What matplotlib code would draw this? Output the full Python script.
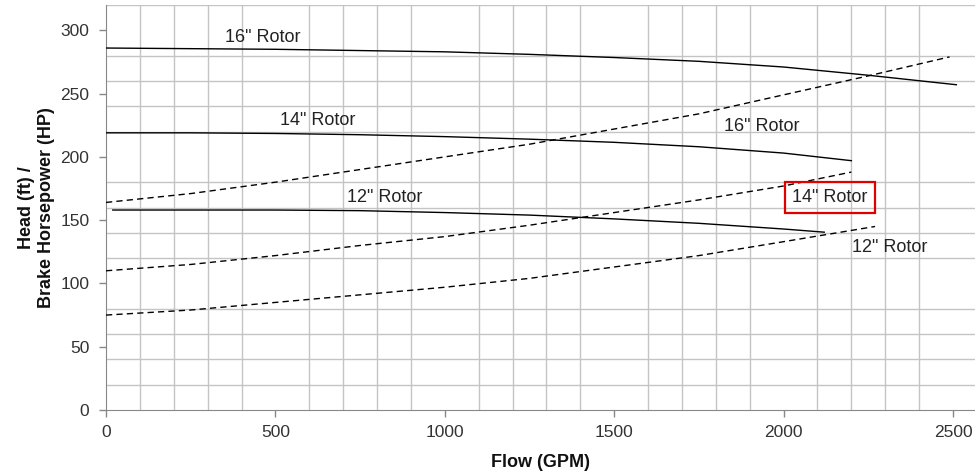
import matplotlib
matplotlib.use("Agg")
import matplotlib.pyplot as plt
from matplotlib.ticker import MultipleLocator

plt.rcParams['font.family'] = ['Liberation Sans', 'DejaVu Sans']

# Head curves (solid)
head16_flow = [0, 250, 500, 750, 1000, 1250, 1500, 1750, 2000, 2250, 2510]
head16_ft = [286, 285.5, 285, 284, 283, 281, 278.5, 275.5, 271, 264.5, 257]
head14_flow = [0, 250, 500, 750, 1000, 1250, 1500, 1750, 2000, 2200]
head14_ft = [219, 219, 218.5, 217.5, 216, 214, 211.5, 208, 203, 197]
head12_flow = [20, 250, 500, 750, 1000, 1250, 1500, 1750, 2000, 2120]
head12_ft = [158, 158, 158, 157.5, 156, 154, 151, 147.5, 143, 140.5]

# Brake horsepower curves (dashed)
bhp16_flow = [0, 250, 500, 750, 1000, 1250, 1500, 1750, 2000, 2250, 2490]
bhp16_hp = [164, 171, 180, 190, 200, 210, 222, 234, 249, 264, 279]
bhp14_flow = [0, 250, 500, 750, 1000, 1250, 1500, 1750, 2000, 2200]
bhp14_hp = [110, 115, 122, 130, 137, 146, 156, 166, 177, 188]
bhp12_flow = [0, 250, 500, 750, 1000, 1250, 1500, 1750, 2000, 2270]
bhp12_hp = [75, 79, 85, 91, 97, 104, 113, 122, 133, 145]

# curve labels: (text, flow, value, boxed)
labels = [
    ('16" Rotor', 463, 294, False),
    ('14" Rotor', 626, 229, False),
    ('12" Rotor', 823, 168, False),
    ('16" Rotor', 1936, 224, False),
    ('14" Rotor', 2137, 168, True),
    ('12" Rotor', 2314, 128, False),
]

fig = plt.figure(figsize=(9.75, 4.74), dpi=100)
ax = fig.add_axes([106 / 975, (474 - 410) / 474, 869 / 975, 405 / 474])

for x, y in [(head16_flow, head16_ft), (head14_flow, head14_ft), (head12_flow, head12_ft)]:
    ax.plot(x, y, color='black', lw=1.0, zorder=3)
for x, y in [(bhp16_flow, bhp16_hp), (bhp14_flow, bhp14_hp), (bhp12_flow, bhp12_hp)]:
    ax.plot(x, y, color='black', lw=1.0, dashes=(4.5, 3), zorder=3)

for txt, x, y, boxed in labels:
    kw = {}
    if boxed:
        kw['bbox'] = dict(boxstyle='square,pad=0.4', facecolor='none', edgecolor='#e00000', lw=1.6)
    ax.text(x, y, txt, ha='center', va='center', fontsize=13, color='#222222', zorder=4, **kw)

ax.set_xlim(0, 2565)
ax.set_ylim(0, 320)
ax.xaxis.set_major_locator(MultipleLocator(500))
ax.xaxis.set_minor_locator(MultipleLocator(100))
ax.yaxis.set_major_locator(MultipleLocator(50))
ax.yaxis.set_minor_locator(MultipleLocator(20))
ax.grid(which='minor', color='#c4c4c4', lw=1.0)
ax.grid(which='major', visible=False)
ax.set_axisbelow(True)

ax.tick_params(which='major', length=5, width=1, color='#888888', labelsize=12.5,
               labelcolor='#333333')
ax.tick_params(axis='x', which='major', pad=6)
ax.tick_params(axis='y', which='major', pad=7)
ax.tick_params(which='minor', length=0)

for side in ['top', 'right']:
    ax.spines[side].set_visible(False)
for side in ['left', 'bottom']:
    ax.spines[side].set_color('#888888')

ax.set_xlabel('Flow (GPM)', fontsize=13, fontweight='bold', color='#111111', labelpad=10)
ax.set_ylabel('Head (ft) /\nBrake Horsepower (HP)', fontsize=13, fontweight='bold',
              color='#111111', labelpad=4)

fig.savefig('out.png', dpi=100)
